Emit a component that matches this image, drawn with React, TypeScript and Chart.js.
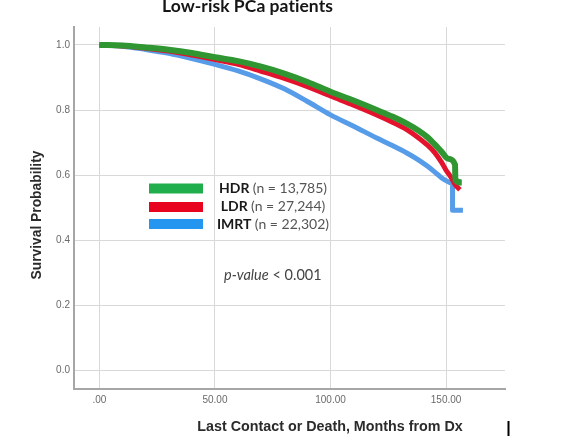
import React, { useEffect, useRef } from "react";
import { Chart, registerables } from "chart.js";

Chart.register(...registerables);

const hdrMonths = [0, 10, 20, 30, 40, 50, 60, 70, 80, 90, 100, 110, 120, 127, 133, 138, 142, 145, 148, 151, 153.9, 154.0, 156.8];
const hdrSurvival = [1.0, 0.998, 0.992, 0.985, 0.975, 0.962, 0.95, 0.933, 0.912, 0.886, 0.856, 0.829, 0.8, 0.779, 0.758, 0.737, 0.716, 0.695, 0.672, 0.65, 0.632, 0.585, 0.577];

const ldrMonths = [0, 10, 20, 30, 40, 50, 60, 70, 80, 90, 100, 110, 120, 127, 133, 138, 142, 145, 148, 150, 152, 154, 156];
const ldrSurvival = [1.0, 0.997, 0.99, 0.981, 0.969, 0.955, 0.94, 0.919, 0.897, 0.872, 0.843, 0.815, 0.785, 0.762, 0.74, 0.715, 0.692, 0.67, 0.64, 0.615, 0.595, 0.57, 0.555];

const imrtMonths = [0, 10, 20, 30, 40, 50, 60, 70, 80, 90, 100, 110, 120, 127, 133, 138, 142, 145, 148, 150, 152.8, 152.8, 157.3];
const imrtSurvival = [1.0, 0.996, 0.986, 0.974, 0.958, 0.94, 0.92, 0.895, 0.865, 0.826, 0.785, 0.75, 0.714, 0.69, 0.668, 0.647, 0.627, 0.61, 0.592, 0.583, 0.575, 0.492, 0.492];

const xTicks = [0, 50, 100, 150];
const xTickLabels = [".00", "50.00", "100.00", "150.00"];
const yTicks = [0, 0.2, 0.4, 0.6, 0.8, 1.0];

const seriesNames = ["HDR", "LDR", "IMRT"];
const seriesCounts = ["(n = 13,785)", "(n = 27,244)", "(n = 22,302)"];
const lineColors = ["#2f9632", "#e3132e", "#579ce8"];
const legendColors = ["#1fae4b", "#e8031f", "#2596f0"];

const chartTitle = "Low-risk PCa patients";
const xTitle = "Last Contact or Death, Months from Dx";
const yTitle = "Survival Probability";

function toPoints(xs: number[], ys: number[]) {
  return xs.map((x, i) => ({ x, y: ys[i] }));
}

const annotations = {
  id: "annotations",
  afterDraw(chart: any) {
    const ctx = chart.ctx as CanvasRenderingContext2D;
    ctx.save();
    // main title (tiny letter spacing avoids the "ti" ligature)
    ctx.fillStyle = "#151515";
    ctx.font = "bold 17.5px Lato";
    ctx.textAlign = "center";
    ctx.textBaseline = "alphabetic";
    (ctx as any).letterSpacing = "0.05px";
    ctx.fillText(chartTitle, 247.5, 12);
    (ctx as any).letterSpacing = "0px";

    // x title
    ctx.fillStyle = "#2b2b2b";
    ctx.font = "bold 14.3px 'Liberation Sans', Arial";
    ctx.fillText(xTitle, 330, 431);

    // y title
    ctx.save();
    ctx.translate(37, 215);
    ctx.rotate(-Math.PI / 2);
    ctx.textBaseline = "middle";
    ctx.font = "bold 13.8px 'Liberation Sans', Arial";
    ctx.fillText(yTitle, 0, 0);
    ctx.restore();

    // legend
    const bars = [188.5, 207, 224];
    const baselines = [192.5, 211, 229];
    for (let i = 0; i < 3; i++) {
      ctx.fillStyle = legendColors[i];
      ctx.fillRect(149, bars[i] - 5, 54, 10);
      ctx.font = "bold 14px Lato";
      const w1 = ctx.measureText(seriesNames[i] + " ").width;
      ctx.font = "14px Lato";
      const w2 = ctx.measureText(seriesCounts[i]).width;
      const start = 273 - (w1 + w2) / 2;
      ctx.textAlign = "left";
      ctx.textBaseline = "alphabetic";
      ctx.fillStyle = "#1a1a1a";
      ctx.font = "bold 14px Lato";
      ctx.fillText(seriesNames[i] + " ", start, baselines[i]);
      ctx.fillStyle = "#555555";
      ctx.font = "14px Lato";
      ctx.fillText(seriesCounts[i], start + w1, baselines[i]);
    }

    // p-value
    ctx.fillStyle = "#444444";
    ctx.font = "italic 14.5px Lato";
    ctx.fillText("p-value", 224, 280);
    const pw = ctx.measureText("p-value").width;
    ctx.font = "14.5px Lato";
    ctx.fillText(" < 0.001", 224 + pw, 280);

    // cursor mark
    ctx.fillStyle = "#000";
    ctx.fillRect(507.5, 421, 2, 15);
    ctx.restore();
  },
};

export default function App() {
  const ref = useRef<HTMLCanvasElement>(null);
  useEffect(() => {
    if (!ref.current) return;
    const datasets = [
      { label: seriesNames[0], data: toPoints(hdrMonths, hdrSurvival), borderColor: lineColors[0], borderWidth: 6 },
      { label: seriesNames[1], data: toPoints(ldrMonths, ldrSurvival), borderColor: lineColors[1], borderWidth: 5 },
      { label: seriesNames[2], data: toPoints(imrtMonths, imrtSurvival), borderColor: lineColors[2], borderWidth: 5 },
    ].map((d) => ({
      ...d,
      pointRadius: 0,
      fill: false,
      cubicInterpolationMode: "monotone" as const,
      borderCapStyle: "butt" as const,
      borderJoinStyle: "round" as const,
    }));
    const chart = new Chart(ref.current, {
      type: "line",
      data: { datasets },
      options: {
        responsive: false,
        animation: false,
        devicePixelRatio: 1,
        layout: { padding: { top: 27, right: 61, left: 0, bottom: 0 } },
        plugins: { legend: { display: false }, tooltip: { enabled: false }, title: { display: false } },
        scales: {
          x: {
            type: "linear",
            min: -11,
            max: 175.5,
            afterBuildTicks: (scale: any) => {
              scale.ticks = xTicks.map((v) => ({ value: v }));
            },
            afterFit: (scale: any) => {
              scale.height = 54;
            },
            ticks: {
              padding: 5,
              color: "#6a6a6a",
              font: { family: "'Liberation Sans', Arial", size: 10 },
              callback: (v: any) => {
                const i = xTicks.indexOf(Number(v));
                return i >= 0 ? xTickLabels[i] : "";
              },
              maxRotation: 0,
            },
            grid: { color: "#d9d9d9", lineWidth: 1, drawTicks: false },
            border: { color: "#a6a6a6", width: 2 },
          },
          y: {
            type: "linear",
            min: -0.057,
            max: 1.055,
            afterBuildTicks: (scale: any) => {
              scale.ticks = yTicks.map((v) => ({ value: v }));
            },
            afterFit: (scale: any) => {
              scale.width = 74;
            },
            ticks: {
              padding: 4,
              color: "#6a6a6a",
              font: { family: "'Liberation Sans', Arial", size: 10 },
              callback: (v: any) => Number(v).toFixed(1),
            },
            grid: { color: "#d9d9d9", lineWidth: 1, drawTicks: false },
            border: { color: "#a6a6a6", width: 2 },
          },
        },
      },
      plugins: [annotations],
    });
    return () => chart.destroy();
  }, []);
  return (
    <div style={{ position: "absolute", left: 0, top: 0, width: 566, height: 443, background: "#fff" }}>
      <canvas ref={ref} width={566} height={443} style={{ display: "block" }} />
    </div>
  );
}
